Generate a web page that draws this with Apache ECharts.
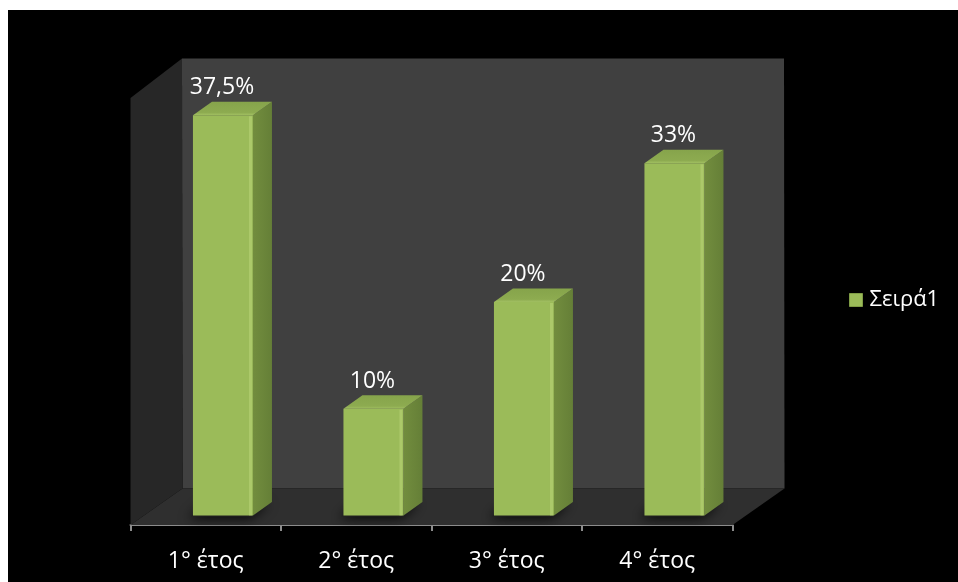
<!DOCTYPE html>
<html>
<head>
<meta charset="utf-8">
<script src="https://cdn.jsdelivr.net/npm/echarts@6/dist/echarts.min.js"></script>
<style>
  html, body { margin: 0; padding: 0; background: #000; }
  #chart { width: 958px; height: 582px; }
</style>
</head>
<body>
<div id="chart"></div>
<script>
// Share of the total per year of study
const categories = ['1° έτος', '2° έτος', '3° έτος', '4° έτος'];
const values = [37.5, 10, 20, 33];
const seriesName = 'Σειρά1';
const yMax = 40;

const FONT = '"Open Sans", "Noto Sans", sans-serif';
const GREEN = '#9bbb59';

// Oblique 3D look: offsets from the front plane to the back wall, and of each column
const WALL_TOP_DEPTH = [51.5, -39.5];
const WALL_BOTTOM_DEPTH = [52, -36.5];
const BAR_SHIFT = [17.2, -9.5];
const BAR_DEPTH = [19, -13.5];
const BAR_WIDTH = 60;

const add = (p, d) => [p[0] + d[0], p[1] + d[1]];
const pct = v => String(v).replace('.', ',') + '%';

function renderWalls(params, api) {
  const band = api.size([1, 0])[0];
  const left = api.coord([0, 0])[0] - band / 2;
  const right = api.coord([categories.length - 1, 0])[0] + band / 2;
  const bottom = api.coord([0, 0])[1];
  const top = api.coord([0, yMax])[1];
  const tl = [left, top], bl = [left, bottom], br = [right, bottom], tr = [right, top];
  const btl = add(tl, WALL_TOP_DEPTH), btr = add(tr, WALL_TOP_DEPTH);
  const bbl = add(bl, WALL_BOTTOM_DEPTH), bbr = add(br, WALL_BOTTOM_DEPTH);
  return {
    type: 'group',
    silent: true,
    children: [
      { type: 'polygon', shape: { points: [btl, btr, bbr, bbl] }, style: { fill: '#404040' } },
      { type: 'polygon', shape: { points: [tl, btl, bbl, bl] }, style: { fill: '#272727' } },
      { type: 'polygon', shape: { points: [bl, bbl, bbr, br] }, style: { fill: '#2f2f2f' } }
    ]
  };
}

function renderColumn(params, api) {
  const idx = api.value(0);
  const v = api.value(1);
  const base = api.coord([idx, 0]);
  const tip = api.coord([idx, v]);
  const cx = base[0] + BAR_SHIFT[0];
  const x0 = cx - BAR_WIDTH / 2, x1 = cx + BAR_WIDTH / 2;
  const yb = base[1] + BAR_SHIFT[1], yt = tip[1] + BAR_SHIFT[1];
  const dx = BAR_DEPTH[0], dy = BAR_DEPTH[1];
  return {
    type: 'group',
    children: [
      // soft shadow on the floor
      {
        type: 'polygon',
        shape: { points: [[x0 - 2, yb + 1], [x1, yb + 1], [x1 + dx, yb + dy], [x0 + dx - 4, yb + dy]] },
        style: { fill: '#222', shadowBlur: 12, shadowColor: 'rgba(0,0,0,0.85)', shadowOffsetX: -3, shadowOffsetY: 2 }
      },
      // right side
      {
        type: 'polygon',
        shape: { points: [[x1, yt], [x1 + dx, yt + dy], [x1 + dx, yb + dy], [x1, yb]] },
        style: {
          fill: new echarts.graphic.LinearGradient(0, 0, 1, 0, [
            { offset: 0, color: '#728d3e' },
            { offset: 1, color: '#657f37' }
          ])
        }
      },
      // top
      {
        type: 'polygon',
        shape: { points: [[x0, yt], [x0 + dx, yt + dy], [x1 + dx, yt + dy], [x1, yt]] },
        style: {
          fill: new echarts.graphic.LinearGradient(0, 0, 0, 1, [
            { offset: 0, color: '#86a44b' },
            { offset: 0.8, color: '#8dab50' },
            { offset: 1, color: '#a2c062' }
          ])
        }
      },
      // front
      {
        type: 'rect',
        shape: { x: x0, y: yt, width: BAR_WIDTH, height: yb - yt },
        style: { fill: GREEN }
      },
      {
        type: 'rect',
        shape: { x: x1 - 4, y: yt + 1, width: 3, height: yb - yt - 1 },
        style: { fill: 'rgba(185,214,120,0.55)' }
      },
      // value label
      {
        type: 'text',
        style: {
          x: cx - 1, y: yt - 27.5,
          text: pct(v),
          fill: '#ffffff',
          font: '23px ' + FONT,
          align: 'center',
          verticalAlign: 'middle'
        }
      }
    ]
  };
}

const chart = echarts.init(document.getElementById('chart'), null, { renderer: 'canvas' });
chart.setOption({
  backgroundColor: '#000000',
  animation: false,
  graphic: [
    { type: 'rect', left: 0, top: 0, shape: { width: 958, height: 10 }, style: { fill: '#ffffff' }, z: 100 },
    { type: 'rect', left: 0, top: 0, shape: { width: 8, height: 582 }, style: { fill: '#ffffff' }, z: 100 }
  ],
  grid: { left: 130.5, right: 225.5, top: 98, bottom: 57 },
  legend: {
    data: [{ name: seriesName, icon: 'rect' }],
    left: 849,
    top: 289,
    padding: 0,
    itemWidth: 13,
    itemHeight: 13,
    itemGap: 6,
    itemStyle: { color: GREEN, borderColor: '#7f9c45', borderWidth: 1 },
    textStyle: { color: '#ffffff', fontSize: 22, fontFamily: FONT, lineHeight: 22, padding: [0, 0, 0, 2] }
  },
  xAxis: {
    type: 'category',
    data: categories,
    offset: 2,
    axisLine: { lineStyle: { color: '#8c8c8c', width: 2 } },
    axisTick: { show: true, length: 6, lineStyle: { color: '#8c8c8c', width: 2 } },
    axisLabel: { color: '#ffffff', fontSize: 23, fontFamily: FONT, margin: 23 },
    splitLine: { show: false }
  },
  yAxis: {
    type: 'value',
    min: 0,
    max: yMax,
    show: false
  },
  series: [
    {
      type: 'custom',
      name: 'walls',
      silent: true,
      renderItem: renderWalls,
      data: [[0, 0]],
      encode: { x: 0, y: 1 }
    },
    {
      type: 'custom',
      name: seriesName,
      renderItem: renderColumn,
      itemStyle: { color: GREEN },
      data: values.map((v, i) => [i, v]),
      encode: { x: 0, y: 1 }
    }
  ]
});
</script>
</body>
</html>
